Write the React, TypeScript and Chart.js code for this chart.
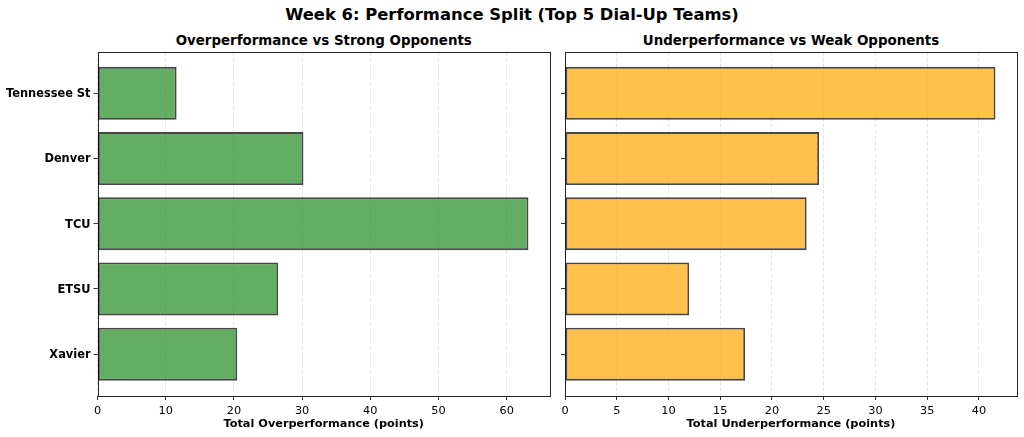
import React, { useEffect, useRef } from "react";
import { Chart, registerables } from "chart.js";

Chart.register(...registerables);

const teams = ["Tennessee St", "Denver", "TCU", "ETSU", "Xavier"];
const overperformance = [11.6, 30.2, 63.2, 26.5, 20.5];
const underperformance = [41.6, 24.55, 23.35, 12.0, 17.4];
const leftTicks = [0, 10, 20, 30, 40, 50, 60];
const rightTicks = [0, 5, 10, 15, 20, 25, 30, 35, 40];

const FONT = "'DejaVu Sans', sans-serif";

const framePlugin = {
  id: "frame",
  afterDraw(chart: any) {
    const { ctx, chartArea } = chart;
    ctx.save();
    ctx.strokeStyle = "rgba(0,0,0,0.85)";
    ctx.lineWidth = 1;
    ctx.strokeRect(
      Math.round(chartArea.left) + 0.5,
      Math.round(chartArea.top) + 0.5,
      Math.round(chartArea.right) - Math.round(chartArea.left),
      Math.round(chartArea.bottom) - Math.round(chartArea.top)
    );
    ctx.restore();
  },
};

function makeConfig(
  values: number[],
  ticks: number[],
  fill: string,
  xTitle: string,
  showLabels: boolean,
  yWidth: number
): any {
  const maxV = Math.max(...values) * 1.05;
  return {
    type: "bar",
    data: {
      datasets: [
        {
          data: values.map((v, i) => ({ x: v, y: i })),
          backgroundColor: fill,
          borderColor: "rgba(0,0,0,0.72)",
          borderWidth: 1.8,
          borderSkipped: false,
          barPercentage: 0.81,
          categoryPercentage: 1,
        },
      ],
    },
    plugins: [framePlugin],
    options: {
      indexAxis: "y",
      animation: false,
      responsive: false,
      maintainAspectRatio: false,
      layout: { padding: { top: 51.5, right: 7, left: 0, bottom: 0 } },
      plugins: { legend: { display: false }, tooltip: { enabled: false }, title: { display: false } },
      scales: {
        x: {
          type: "linear",
          position: "bottom",
          min: 0,
          max: maxV,
          offset: false,
          afterBuildTicks: (s: any) => {
            s.ticks = ticks.map((v) => ({ value: v }));
          },
          afterFit: (s: any) => {
            s.height = 41;
          },
          border: { display: false, dash: [4, 2] },
          grid: {
            offset: false,
            color: "rgba(176,176,176,0.32)",
            lineWidth: 1,
            drawTicks: true,
            tickLength: 4,
            tickColor: "#333",
            tickBorderDash: [],
            tickWidth: 1,
          },
          ticks: {
            padding: 4,
            color: "#000",
            font: { family: FONT, size: 11.3 },
            callback: (v: any) => String(v),
          },
          title: {
            display: true,
            text: xTitle,
            color: "#000",
            font: { family: FONT, size: 11.3, weight: "bold" },
            padding: { top: 0, bottom: 6 },
          },
        },
        y: {
          type: "linear",
          reverse: true,
          min: -0.64,
          max: 4.64,
          offset: false,
          afterBuildTicks: (s: any) => {
            s.ticks = teams.map((_, i) => ({ value: i }));
          },
          afterFit: (s: any) => {
            s.width = yWidth;
          },
          border: { display: false },
          grid: {
            offset: false,
            drawOnChartArea: false,
            drawTicks: true,
            tickLength: 4,
            tickColor: "#333",
            tickWidth: 1,
          },
          ticks: {
            display: showLabels,
            padding: 3,
            labelOffset: 1,
            color: "#000",
            font: { family: FONT, size: 11.4, weight: "bold" },
            callback: (v: any) => teams[v] ?? "",
          },
        },
      },
    },
  };
}

function Panel(props: {
  left: number;
  width: number;
  values: number[];
  ticks: number[];
  fill: string;
  xTitle: string;
  showLabels: boolean;
  yWidth: number;
}) {
  const ref = useRef<HTMLCanvasElement | null>(null);
  useEffect(() => {
    if (!ref.current) return;
    const chart = new Chart(
      ref.current,
      makeConfig(props.values, props.ticks, props.fill, props.xTitle, props.showLabels, props.yWidth)
    );
    return () => chart.destroy();
  }, []);
  return (
    <canvas
      ref={ref}
      width={props.width}
      height={437}
      style={{ position: "absolute", left: props.left, top: 0, width: props.width, height: 437 }}
    />
  );
}

export default function App() {
  const titleStyle: React.CSSProperties = {
    position: "absolute",
    fontFamily: FONT,
    fontWeight: "bold",
    textAlign: "center",
    color: "#000",
    whiteSpace: "nowrap",
  };
  return (
    <div style={{ position: "fixed", left: 0, top: 0, width: 1024, height: 437, background: "#fff", overflow: "hidden" }}>
      <div style={{ ...titleStyle, left: 0, width: 1024, top: 5, fontSize: 16.4, lineHeight: "20px" }}>
        Week 6: Performance Split (Top 5 Dial-Up Teams)
      </div>
      <div style={{ ...titleStyle, left: 97.5, width: 452.5, top: 33, fontSize: 13.4, lineHeight: "16px" }}>
        Overperformance vs Strong Opponents
      </div>
      <div style={{ ...titleStyle, left: 565, width: 452, top: 33, fontSize: 13.4, lineHeight: "16px" }}>
        Underperformance vs Weak Opponents
      </div>
      <Panel
        left={0}
        width={557}
        values={overperformance}
        ticks={leftTicks}
        fill="rgba(34,139,34,0.7)"
        xTitle="Total Overperformance (points)"
        showLabels={true}
        yWidth={97.5}
      />
      <Panel
        left={557}
        width={467}
        values={underperformance}
        ticks={rightTicks}
        fill="rgba(255,165,0,0.7)"
        xTitle="Total Underperformance (points)"
        showLabels={false}
        yWidth={8}
      />
    </div>
  );
}
